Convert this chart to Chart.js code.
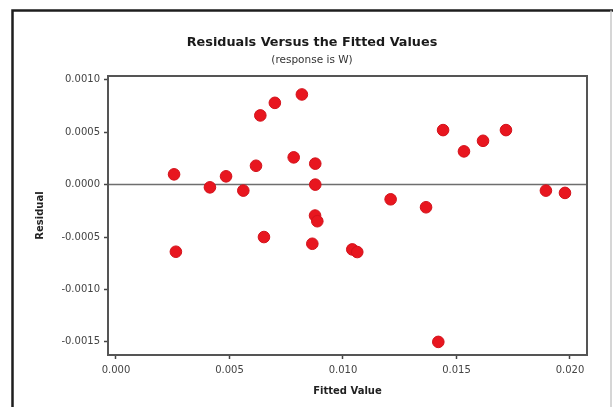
<!DOCTYPE html>
<html>
<head>
<meta charset="utf-8">
<script src="https://cdn.jsdelivr.net/npm/chart.js@4"></script>
<style>
  html, body { margin: 0; padding: 0; background: #ffffff; }
  #wrap { width: 613px; height: 407px; position: relative; }
</style>
</head>
<body>
<div id="wrap"><canvas id="c" width="613" height="407"></canvas></div>
<script>
// ---- data ----
const fittedValues = [
  0.00256, 0.00264, 0.00414, 0.00485, 0.00561, 0.00617, 0.00636, 0.00652,
  0.00700, 0.00819, 0.00783, 0.00878, 0.00878, 0.00877, 0.00887, 0.00865,
  0.01041, 0.01063, 0.01210, 0.01366, 0.01441, 0.01533, 0.01617, 0.01718,
  0.01420, 0.01894, 0.01978
];
const residuals = [
  0.000098, -0.000640, -0.000026, 0.000079, -0.000057, 0.000180, 0.000660, -0.000500,
  0.000780, 0.000860, 0.000260, 0.000200, 0.000000, -0.000295, -0.000349, -0.000564,
  -0.000618, -0.000643, -0.000140, -0.000216, 0.000520, 0.000317, 0.000418, 0.000520,
  -0.001500, -0.000057, -0.000079
];
const xTicks = [0.000, 0.005, 0.010, 0.015, 0.020];
const yTicks = [-0.0015, -0.0010, -0.0005, 0.0000, 0.0005, 0.0010];
const titleText = 'Residuals Versus the Fitted Values';
const subtitleText = '(response is W)';
const xTitle = 'Fitted Value';
const yTitle = 'Residual';

const FONT = '"DejaVu Sans", Verdana, sans-serif';

const points = fittedValues.map((x, i) => ({ x: x, y: residuals[i] }));

const decor = {
  id: 'decor',
  beforeDraw(chart) {
    const ctx = chart.ctx;
    ctx.save();
    ctx.fillStyle = '#ffffff';
    ctx.fillRect(0, 0, chart.width, chart.height);
    // outer frame
    ctx.strokeStyle = '#1e1e1e';
    ctx.lineWidth = 2.5;
    ctx.beginPath();
    ctx.moveTo(12.5, 407);
    ctx.lineTo(12.5, 10.5);
    ctx.lineTo(613, 10.5);
    ctx.stroke();
    ctx.strokeStyle = '#c8c8c8';
    ctx.lineWidth = 1.5;
    ctx.beginPath();
    ctx.moveTo(611, 10.5);
    ctx.lineTo(611, 407);
    ctx.stroke();
    // titles
    ctx.fillStyle = '#1a1a1a';
    ctx.textAlign = 'center';
    ctx.textBaseline = 'middle';
    ctx.font = 'bold 12.8px ' + FONT;
    ctx.fillText(titleText, 312, 43);
    ctx.fillStyle = '#333333';
    ctx.font = '10.5px ' + FONT;
    ctx.fillText(subtitleText, 312, 60);
    // axis titles
    const a = chart.chartArea;
    ctx.fillStyle = '#222222';
    ctx.font = 'bold 10px ' + FONT;
    ctx.fillText(xTitle, (a.left + a.right) / 2, 391);
    ctx.translate(40, (a.top + a.bottom) / 2);
    ctx.rotate(-Math.PI / 2);
    ctx.fillText(yTitle, 0, 0);
    ctx.restore();
  },
  beforeDatasetsDraw(chart) {
    const ctx = chart.ctx;
    const a = chart.chartArea;
    const y0 = chart.scales.y.getPixelForValue(0);
    ctx.save();
    ctx.strokeStyle = '#6e6e6e';
    ctx.lineWidth = 1.5;
    ctx.beginPath();
    ctx.moveTo(a.left, y0);
    ctx.lineTo(a.right, y0);
    ctx.stroke();
    ctx.strokeStyle = '#555555';
    ctx.lineWidth = 2;
    ctx.strokeRect(a.left, a.top, a.right - a.left, a.bottom - a.top);
    ctx.restore();
  }
};

new Chart(document.getElementById('c'), {
  type: 'scatter',
  data: {
    datasets: [{
      data: points,
      backgroundColor: '#e8161f',
      borderColor: '#d3121b',
      borderWidth: 1,
      pointRadius: 5.8,
      pointHoverRadius: 5.8
    }]
  },
  options: {
    responsive: false,
    animation: false,
    devicePixelRatio: 1,
    layout: { padding: { left: 0, right: 26, top: 76, bottom: 0 } },
    plugins: { legend: { display: false }, tooltip: { enabled: false }, title: { display: false } },
    scales: {
      x: {
        type: 'linear',
        min: -0.00035,
        max: 0.02075,
        afterBuildTicks: s => { s.ticks = xTicks.map(v => ({ value: v })); },
        afterFit: s => { s.height = 52; },
        grid: { display: true, drawOnChartArea: false, drawTicks: true, tickLength: 4, tickColor: '#444444', tickWidth: 1.5 },
        border: { display: false },
        ticks: {
          padding: 5,
          color: '#444444',
          font: { family: FONT, size: 10 },
          callback: v => Number(v).toFixed(3)
        },
        title: { display: false }
      },
      y: {
        type: 'linear',
        min: -0.001625,
        max: 0.001036,
        afterBuildTicks: s => { s.ticks = yTicks.map(v => ({ value: v })); },
        afterFit: s => { s.width = 108; },
        grid: { display: true, drawOnChartArea: false, drawTicks: true, tickLength: 4, tickColor: '#444444', tickWidth: 1.5 },
        border: { display: false },
        ticks: {
          padding: 4,
          color: '#444444',
          font: { family: FONT, size: 10 },
          callback: v => Number(v).toFixed(4)
        },
        title: { display: false }
      }
    }
  },
  plugins: [decor]
});
</script>
</body>
</html>
